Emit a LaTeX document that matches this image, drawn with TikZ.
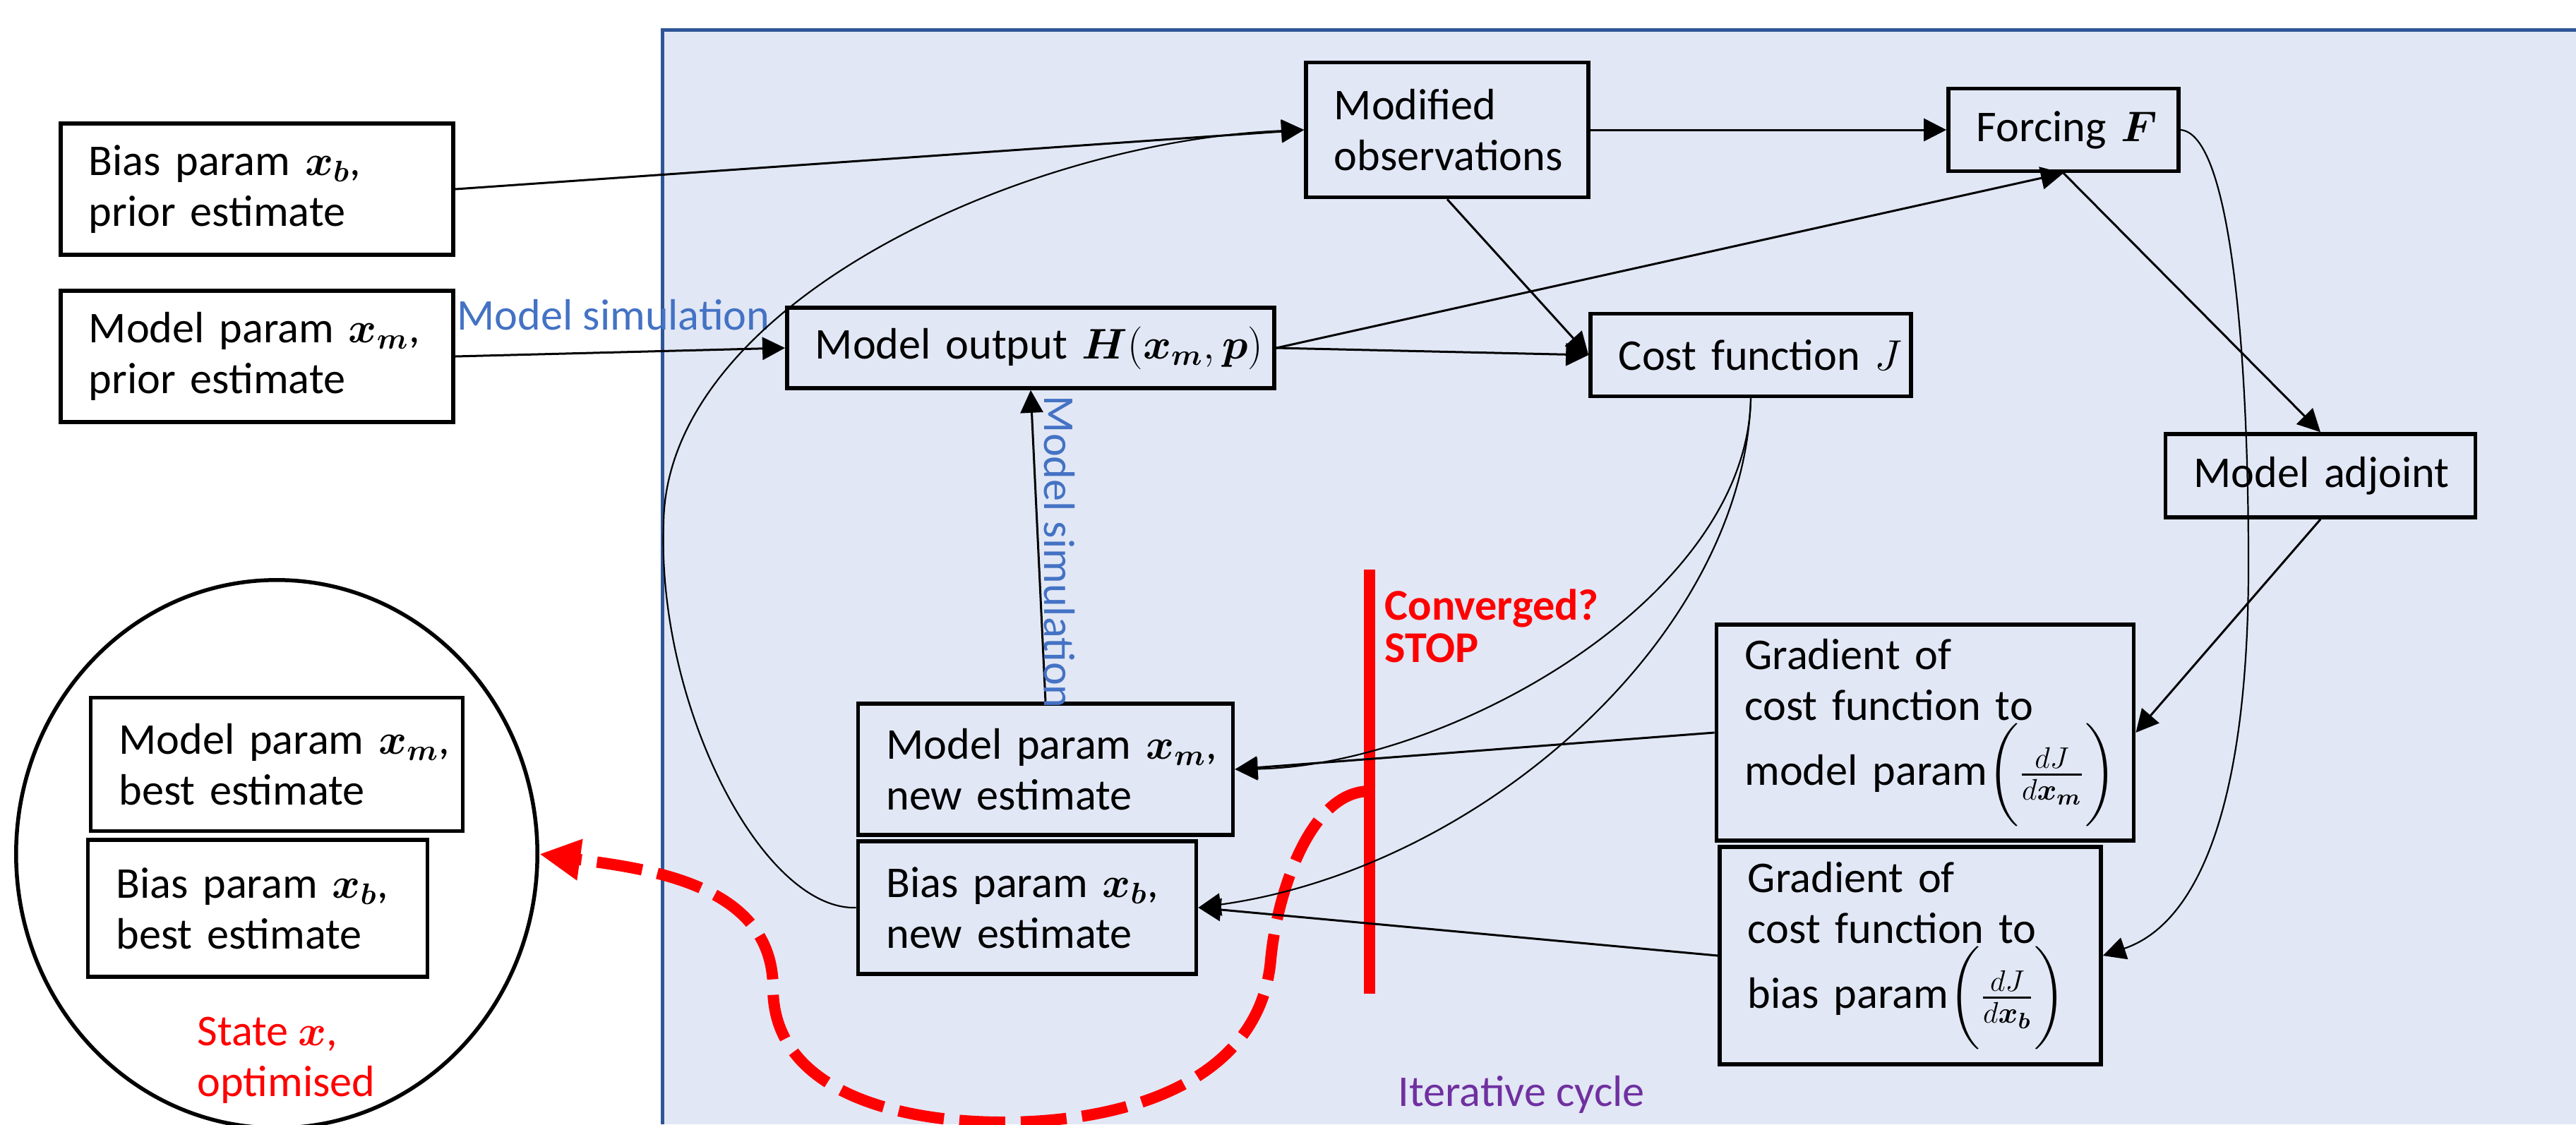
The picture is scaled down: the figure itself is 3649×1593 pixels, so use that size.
\documentclass[tikz,border=0pt]{standalone}
\usepackage{fontspec}
\setmainfont{Carlito}
\usepackage{amsmath}
\usepackage{bm}
\usetikzlibrary{arrows.meta,shapes.geometric,calc}
\definecolor{cyclefill}{RGB}{225,231,245}
\definecolor{cycleline}{RGB}{47,85,151}
\definecolor{simblue}{RGB}{68,114,196}
\definecolor{iterpurple}{RGB}{112,48,160}
\tikzset{
  box/.style={draw, line width=0.055cm, rectangle, align=left, inner xsep=0.4cm, inner ysep=0pt,
    execute at begin node={\hyphenpenalty=10000\exhyphenpenalty=10000\relax}},
  link/.style={line width=0.03cm, -{Triangle[length=0.32cm,width=0.32cm]}},
  bend link/.style={line width=0.022cm, -{Triangle[length=0.32cm,width=0.32cm]}},
  stopline/.style={red, line width=0.16cm},
}
\newcommand{\gradfrac}[1]{\bigg(\frac{dJ}{d\bm{x}_{\bm{#1}}}\bigg)}

\begin{document}
\begin{tikzpicture}[x=0.01cm, y=-0.01cm, font=\fontsize{17.7}{20.5}\selectfont]
\useasboundingbox (0,0) rectangle (3649,1593);
\fill[cyclefill] (938,42) rectangle (3649,1593);
\draw[cycleline, line width=0.05cm] (3649,42) -- (938,42) -- (938,1593);

\node[draw, ellipse, line width=0.055cm, fill=white, minimum width=7.38cm, minimum height=7.76cm] (state) at (392,1210) {};

\node[box, text width=4.76cm, minimum height=1.86cm] (bprior) at (364,268) {Bias~param~$\bm{x}_{\bm{b}}$,\\prior~estimate};
\node[box, text width=4.76cm, minimum height=1.86cm] (mprior) at (364,505) {Model~param~$\bm{x}_{\bm{m}}$,\\prior~estimate};
\node[box, text width=3.20cm, minimum height=1.91cm] (modobs) at (2050,184) {Modified\\observations};
\node[box, text width=2.46cm, minimum height=1.17cm] (forcing) at (2923,184) {Forcing~$\bm{F}$};
\node[box, text width=6.10cm, minimum height=1.14cm] (mout) at (1460,493) {Model~output~$\bm{H}(\bm{x}_{\bm{m}},\bm{p})$};
\node[box, text width=3.74cm, minimum height=1.17cm] (cost) at (2480,503) {Cost~function~$J$};
\node[box, text width=3.59cm, minimum height=1.18cm] (adj) at (3287,674) {Model~adjoint};
\node[box, text width=5.11cm, minimum height=3.06cm] (gradm) at (2727,1038) {Gradient~of\\cost~function~to\\model~param$\gradfrac{m}$};
\node[box, text width=4.60cm, minimum height=3.08cm] (gradb) at (2706,1354) {Gradient~of\\cost~function~to\\bias~param$\gradfrac{b}$};
\node[box, text width=4.51cm, minimum height=1.86cm] (mnew) at (1481,1090) {Model~param~$\bm{x}_{\bm{m}}$,\\new~estimate};
\node[box, text width=3.99cm, minimum height=1.88cm] (bnew) at (1455,1286) {Bias~param~$\bm{x}_{\bm{b}}$,\\new~estimate};
\node[box, text width=4.47cm, minimum height=1.89cm] (mbest) at (392,1083) {Model~param~$\bm{x}_{\bm{m}}$,\\best~estimate};
\node[box, text width=4.01cm, minimum height=1.94cm] (bbest) at (365,1287) {Bias~param~$\bm{x}_{\bm{b}}$,\\best~estimate};
\node[red, align=left, anchor=north west, inner sep=0pt] (statelbl) at (279,1440) {State $\bm{x}$,\\optimised};
\node[iterpurple] (iterlbl) at (2155,1551) {Iterative cycle};

\coordinate (bartop) at (1940,807);
\coordinate (barbot) at (1940,1408);
\coordinate (barjoin) at (1940,1121);
\draw[stopline] (bartop) -- (barbot);
\node[red, align=left, anchor=north west, inner sep=0pt, font=\fontsize{17.7}{17}\selectfont\bfseries] (conv) at (1961,834) {Converged?\\STOP};
\draw[stopline, dash pattern=on 0.65cm off 0.22cm, -{Triangle[length=0.58cm,width=0.55cm]}] (barjoin) to[out=180,in=85,looseness=0.8] (1800,1360) to[out=-95,in=0] (1421,1590) to[out=180,in=-90] (1095,1400) to[out=90,in=-8] (state.east);

\draw[link] (bprior.east) -- (modobs.west);
\draw[link] (mprior.east) -- node[simblue, pos=0.48, above=6.5pt, inner sep=2pt] (simlbl) {Model simulation} (mout.west);
\draw[link] (mout.east) -- (cost.west);
\draw[link] (modobs.south) -- (cost.west);
\draw[link] (modobs.east) -- (forcing.west);
\draw[link] (mout.east) -- (forcing.south);
\draw[link] (forcing.south) -- (adj.north);
\draw[link] (adj.south) -- (gradm.east);
\draw[link] (gradm.west) -- (mnew.east);
\draw[link] (gradb.west) -- (bnew.east);
\draw[link] (mnew.north) -- node[simblue, pos=0.48, rotate=-90, anchor=south, inner sep=2pt] (simlbl2) {Model simulation} (mout.south);

\draw[bend link] (bnew.west) .. controls (1080,1290) and (930,1000) .. (940,740) .. controls (945,430) and (1450,200) .. (modobs.west);
\draw[bend link] (cost.south) .. controls (2475,850) and (2050,1085) .. (mnew.east);
\draw[bend link] (cost.south) .. controls (2470,900) and (2100,1230) .. (bnew.east);
\draw[bend link] (forcing.east) .. controls (3160,190) and (3185,500) .. (3185,800) .. controls (3185,1150) and (3110,1310) .. (gradb.east);
\end{tikzpicture}
\end{document}
